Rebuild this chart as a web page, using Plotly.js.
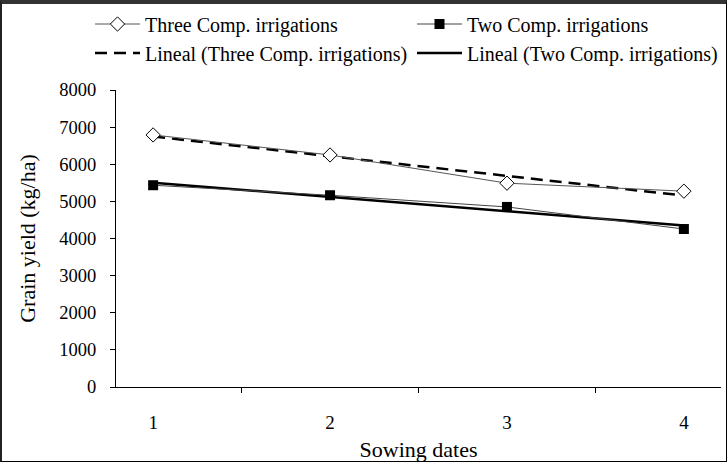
<!DOCTYPE html>
<html><head><meta charset="utf-8">
<script src="https://cdn.plot.ly/plotly-3.0.1.min.js"></script>
<style>
html,body{margin:0;padding:0;background:#fff;}
#wrap{position:relative;width:727px;height:462px;}
#chart{width:727px;height:462px;}
#frame{position:absolute;left:0;top:0;width:727px;height:462px;box-sizing:border-box;border:1px solid #000;border-left:2px solid #222;border-top:4px solid #333;pointer-events:none;}
</style></head>
<body>
<div id="wrap"><div id="chart"></div><div id="frame"></div></div>
<script>
const categories = ['1','2','3','4'];
const threeComp = [6790, 6250, 5490, 5275];
const twoComp = [5435, 5165, 4850, 4255];
const names = ['Three Comp. irrigations','Two Comp. irrigations','Lineal (Three Comp. irrigations)','Lineal (Two Comp. irrigations)'];

function linFit(ys){
  const n = ys.length, xs = ys.map((_,i)=>i+1);
  const mx = xs.reduce((a,b)=>a+b)/n, my = ys.reduce((a,b)=>a+b)/n;
  let sxy=0, sxx=0;
  xs.forEach((x,i)=>{sxy+=(x-mx)*(ys[i]-my); sxx+=(x-mx)*(x-mx);});
  const b = sxy/sxx, a = my-b*mx;
  return xs.map(x=>a+b*x);
}
const font = 'Liberation Serif';
const traces = [
  {x:categories, y:linFit(threeComp), name:names[2], mode:'lines', line:{color:'#000',width:2.5,dash:'12px,7px'}, legend:'legend3'},
  {x:categories, y:linFit(twoComp), name:names[3], mode:'lines', line:{color:'#000',width:2.5}, legend:'legend4'},
  {x:categories, y:threeComp, name:names[0], mode:'lines+markers', line:{color:'#555',width:1}, marker:{symbol:'diamond',size:11,color:'#fff',line:{color:'#000',width:1}}, legend:'legend'},
  {x:categories, y:twoComp, name:names[1], mode:'lines+markers', line:{color:'#444',width:1}, marker:{symbol:'square',size:10,color:'#000'}, legend:'legend2'}
];
function leg(px, py){
  return {orientation:'h', xref:'container', yref:'container', x:px/727, y:1-py/462, xanchor:'left', yanchor:'middle', itemwidth:45, font:{family:font,size:20,color:'#000'}, bgcolor:'rgba(0,0,0,0)', borderwidth:0};
}
const layout = {
  width:727, height:462,
  margin:{l:116, r:6, t:90, b:75, autoexpand:false},
  paper_bgcolor:'#fff', plot_bgcolor:'#fff',
  font:{family:font, size:18, color:'#000'},
  showlegend:true,
  legend:leg(90,24),
  legend2:leg(412,24),
  legend3:leg(90,53),
  legend4:leg(412,53),
  xaxis:{type:'category', categoryorder:'array', categoryarray:categories, tickson:'boundaries', ticks:'outside', ticklen:5, tickcolor:'#000', showline:true, linecolor:'#000', linewidth:1, showgrid:false, zeroline:false, ticklabelstandoff:18, tickfont:{family:font,size:19}, title:{text:'Sowing dates', font:{family:font,size:22}, standoff:10}},
  yaxis:{range:[0,8000], dtick:1000, ticks:'outside', ticklen:5, tickcolor:'#000', showline:true, linecolor:'#000', linewidth:1, showgrid:false, zeroline:false, ticklabelstandoff:10, tickfont:{family:font,size:18.5}, title:{text:'Grain yield (kg/ha)', font:{family:font,size:22}, standoff:17}}
};
Plotly.newPlot('chart', traces, layout, {displayModeBar:false, staticPlot:true});
</script>
</body></html>
